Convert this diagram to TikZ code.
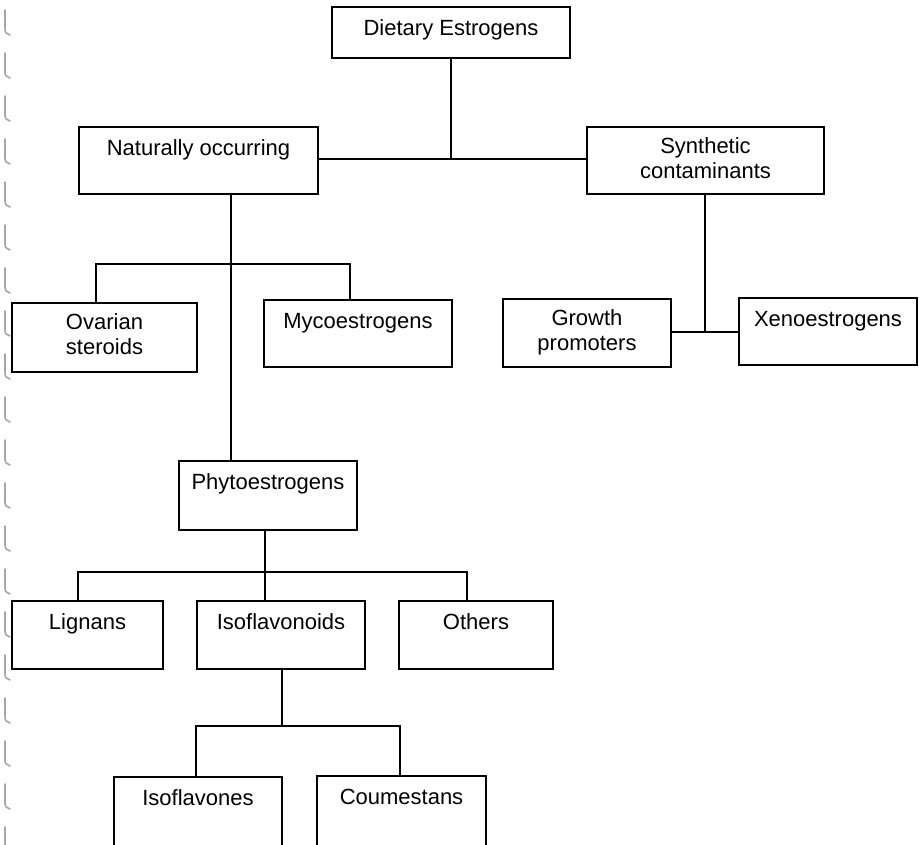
\documentclass[tikz,border=0pt]{standalone}
\usepackage{fontspec}
\setmainfont{Liberation Sans}
\usetikzlibrary{fit}
\begin{document}
\begin{tikzpicture}[x=1pt,y=-1pt,
  box/.style={draw=black, line width=2.2pt, inner sep=0pt},
  lbl/.style={anchor=north, inner sep=0pt, align=center,
    font=\fontsize{22}{25}\selectfont, execute at begin node=\strut},
  link/.style={draw=black, line width=2.1pt},
  edge mark/.style={draw=black!35, line width=1.6pt, line cap=round}]
\useasboundingbox (0,0) rectangle (919,845);
\begin{scope}
\clip (0,0) rectangle (919,845);

% faint marks along the left margin
\foreach \k in {0,...,19}{
  \pgfmathsetmacro\ya{10+43*\k}
  \path[edge mark] (5,\ya) -- (5,\ya+19) .. controls (5,\ya+23) and (7,\ya+24) .. (10,\ya+25);
}

% boxes
\node[box, fit={(332,7) (570,58)}] (diet) {};
\node[box, fit={(79,127) (318,194)}] (natural) {};
\node[box, fit={(587,127) (824,194)}] (synth) {};
\node[box, fit={(12,303) (197,372)}] (ovarian) {};
\node[box, fit={(264,300) (452,367)}] (myco) {};
\node[box, fit={(503,299) (671,367)}] (growth) {};
\node[box, fit={(739,298) (917,365)}] (xeno) {};
\node[box, fit={(179,461) (357,530)}] (phyto) {};
\node[box, fit={(12,601) (163,669)}] (lignans) {};
\node[box, fit={(197,601) (365,669)}] (isoflav) {};
\node[box, fit={(399,601) (553,669)}] (others) {};
\node[box, fit={(114,777) (282,860)}] (isoflavones) {};
\node[box, fit={(317,776) (486,860)}] (coumestans) {};

% labels, set near the top of each box
\node[lbl] (diet-t) at ([yshift=-11.5pt]diet.north) {Dietary Estrogens};
\node[lbl] (natural-t) at ([yshift=-11.5pt]natural.north) {Naturally occurring};
\node[lbl] (synth-t) at ([yshift=-11.5pt]synth.north) {Synthetic\\contaminants};
\node[lbl] (ovarian-t) at ([yshift=-11.5pt]ovarian.north) {Ovarian\\steroids};
\node[lbl] (myco-t) at ([yshift=-11.5pt]myco.north) {Mycoestrogens};
\node[lbl] (growth-t) at ([yshift=-11.5pt]growth.north) {Growth\\promoters};
\node[lbl] (xeno-t) at ([yshift=-11.5pt]xeno.north) {Xenoestrogens};
\node[lbl] (phyto-t) at ([yshift=-11.5pt]phyto.north) {Phytoestrogens};
\node[lbl] (lignans-t) at ([yshift=-11.5pt]lignans.north) {Lignans};
\node[lbl] (isoflav-t) at ([yshift=-11.5pt]isoflav.north) {Isoflavonoids};
\node[lbl] (others-t) at ([yshift=-11.5pt]others.north) {Others};
\node[lbl] (isoflavones-t) at ([yshift=-11.5pt]isoflavones.north) {Isoflavones};
\node[lbl] (coumestans-t) at ([yshift=-11.5pt]coumestans.north) {Coumestans};

% junction points of the tree
\coordinate (top-j) at (451,159);
\coordinate (nat-j) at (231,264);
\coordinate (ov-x) at (96,0);
\coordinate (my-x) at (350,0);
\coordinate (syn-j) at (705,332);
\coordinate (ph-j) at (265,572);
\coordinate (lig-x) at (78,0);
\coordinate (oth-x) at (467,0);
\coordinate (if-j) at (282,726);
\coordinate (ifv-x) at (196,0);
\coordinate (cou-x) at (400,0);

% connectors
\path[link] (diet.south) -- (diet.south |- top-j);
\path[link] (natural.east |- top-j) -- (synth.west |- top-j);

\path[link] (nat-j |- natural.south) -- (nat-j |- phyto.north);
\path[link] (ov-x |- ovarian.north) |- (nat-j) -| (my-x |- myco.north);

\path[link] (syn-j |- synth.south) -- (syn-j);
\path[link] (growth.east |- syn-j) -- (xeno.west |- syn-j);

\path[link] (ph-j |- phyto.south) -- (ph-j |- isoflav.north);
\path[link] (lig-x |- lignans.north) |- (ph-j) -| (oth-x |- others.north);

\path[link] (if-j |- isoflav.south) -- (if-j);
\path[link] (ifv-x |- isoflavones.north) |- (if-j) -| (cou-x |- coumestans.north);
\end{scope}
\end{tikzpicture}
\end{document}
